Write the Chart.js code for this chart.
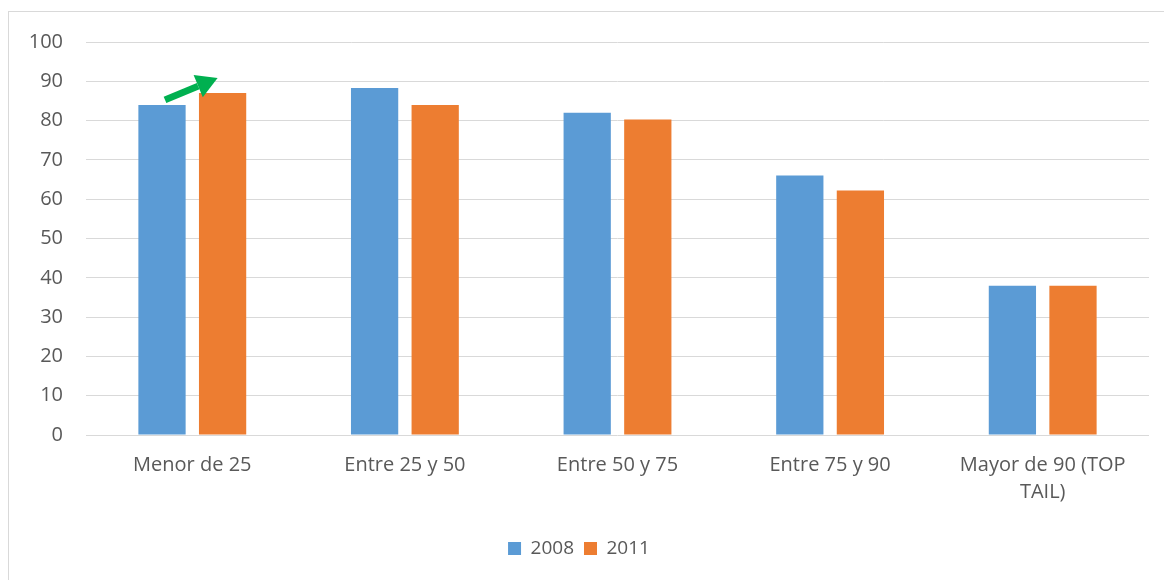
<!DOCTYPE html>
<html>
<head>
<meta charset="utf-8">
<script src="https://cdn.jsdelivr.net/npm/chart.js@4/dist/chart.umd.min.js"></script>
<style>
  html, body { margin: 0; padding: 0; background: #fff; overflow: hidden; }
  #box { position: absolute; left: 8px; top: 11px; width: 1156px; height: 569px;
         border: 1px solid #d9d9d9; border-right: none; border-bottom: none; box-sizing: border-box; }
</style>
</head>
<body>
<div id="box"><canvas id="chart_0"></canvas></div>
<script>
var categories = ["Menor de 25", "Entre 25 y 50", "Entre 50 y 75", "Entre 75 y 90", ["Mayor de 90 (TOP", "TAIL)"]];
var values2008 = [84, 88.3, 82, 66, 38];
var values2011 = [87, 84, 80.3, 62.2, 38];
var yTicks = [0, 10, 20, 30, 40, 50, 60, 70, 80, 90, 100];

var textColor = "#595959";
var fontFamily = "'Open Sans', Arial, sans-serif";

// green arrow from the 2008 bar towards the 2011 bar of the first group
var arrowPlugin = {
  id: "arrow",
  afterDatasetsDraw: function(chart) {
    var b0 = chart.getDatasetMeta(0).data[0];
    var b1 = chart.getDatasetMeta(1).data[0];
    var ctx = chart.ctx;
    var x0 = b0.x + 3, y0 = b0.y - 5;
    var x1 = b1.x - 5, y1 = b1.y - 15;
    var ang = Math.atan2(y1 - y0, x1 - x0);
    var headLen = 21, headW = 12;
    var bx = x1 - headLen * Math.cos(ang), by = y1 - headLen * Math.sin(ang);
    ctx.save();
    ctx.strokeStyle = "#00B050";
    ctx.fillStyle = "#00B050";
    ctx.lineWidth = 7;
    ctx.beginPath();
    ctx.moveTo(x0, y0);
    ctx.lineTo(bx, by);
    ctx.stroke();
    ctx.beginPath();
    ctx.moveTo(x1, y1);
    ctx.lineTo(bx + headW * Math.sin(ang), by - headW * Math.cos(ang));
    ctx.lineTo(bx - headW * Math.sin(ang), by + headW * Math.cos(ang));
    ctx.closePath();
    ctx.fill();
    ctx.restore();
  }
};

new Chart("chart_0", {
  type: "bar",
  data: {
    labels: categories,
    datasets: [{
      label: "2008",
      data: values2008,
      backgroundColor: "#5B9BD5",
      categoryPercentage: 0.57,
      barPercentage: 0.78
    }, {
      label: "2011",
      data: values2011,
      backgroundColor: "#ED7D31",
      categoryPercentage: 0.57,
      barPercentage: 0.78
    }]
  },
  options: {
    responsive: true,
    maintainAspectRatio: false,
    animation: false,
    layout: { padding: { top: 30, right: 15, bottom: 12, left: 0 } },
    plugins: {
      legend: {
        position: "bottom",
        labels: {
          color: textColor,
          font: { family: fontFamily, size: 19 },
          boxWidth: 13,
          boxHeight: 13,
          padding: 10
        }
      },
      tooltip: { enabled: false }
    },
    scales: {
      x: {
        grid: { display: false, drawTicks: false },
        border: { display: false },
        ticks: {
          color: textColor,
          font: { family: fontFamily, size: 20, lineHeight: 1.35 },
          padding: 17,
          maxRotation: 0
        },
        afterFit: function(scale) { scale.height = 94; }
      },
      y: {
        min: 0,
        max: 100,
        afterBuildTicks: function(scale) {
          scale.ticks = yTicks.map(function(v) { return { value: v }; });
        },
        grid: { color: "#d9d9d9", lineWidth: 1, drawTicks: false },
        border: { display: false },
        ticks: {
          color: textColor,
          font: { family: fontFamily, size: 20 },
          padding: 23
        },
        afterFit: function(scale) {
          scale.width = 77;
          scale.paddingTop = 0;
          scale.paddingBottom = 0;
        }
      }
    }
  },
  plugins: [arrowPlugin]
});
</script>
</body>
</html>
